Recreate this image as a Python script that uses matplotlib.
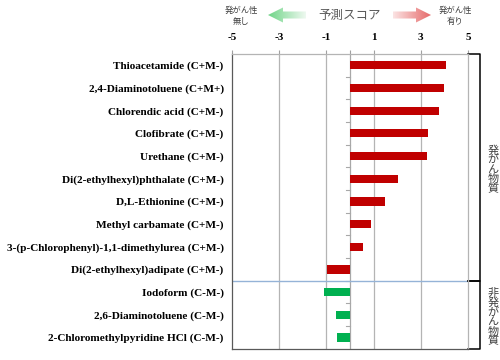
import numpy as np
import matplotlib
matplotlib.use('Agg')
import matplotlib.pyplot as plt
from matplotlib.patches import Polygon
from matplotlib.colors import LinearSegmentedColormap

# Datos
compuestos = [
    "Thioacetamide (C+M-)",
    "2,4-Diaminotoluene (C+M+)",
    "Chlorendic acid (C+M-)",
    "Clofibrate (C+M-)",
    "Urethane (C+M-)",
    "Di(2-ethylhexyl)phthalate (C+M-)",
    "D,L-Ethionine (C+M-)",
    "Methyl carbamate (C+M-)",
    "3-(p-Chlorophenyl)-1,1-dimethylurea (C+M-)",
    "Di(2-ethylhexyl)adipate (C+M-)",
    "Iodoform (C-M-)",
    "2,6-Diaminotoluene (C-M-)",
    "2-Chloromethylpyridine HCl (C-M-)",
]
puntajes = [4.05, 3.97, 3.76, 3.29, 3.27, 2.03, 1.48, 0.91, 0.54, -0.98, -1.12, -0.58, -0.55]
carcinogeno = [True] * 10 + [False] * 3
ticks = [-5, -3, -1, 1, 3, 5]

jp = ['Noto Sans CJK JP', 'DejaVu Sans']
serif = 'Liberation Serif'

fig = plt.figure(figsize=(5, 3.6), dpi=100)
ax = fig.add_axes([0.464, 0.031, 0.472, 0.819])

y = np.arange(len(compuestos))
colores = ['#c00000' if c else '#00b050' for c in carcinogeno]
ax.barh(y, puntajes, height=0.36, color=colores, zorder=3)

ax.set_xlim(-5, 5)
ax.set_ylim(len(compuestos) - 0.5, -0.5)
ax.set_xticks(ticks + [0])
ax.set_xticklabels([str(t) for t in ticks] + [''])
ax.xaxis.tick_top()
ax.tick_params(axis='x', length=3, pad=5.5, color='#a0a0a0', labelsize=8)
for lbl in ax.get_xticklabels():
    lbl.set_fontfamily(serif)
    lbl.set_fontweight('bold')
ax.set_yticks(y)
ax.set_yticklabels(compuestos, fontfamily=serif, fontweight='bold', fontsize=8.1)
ax.tick_params(axis='y', length=0, pad=6)

for t in ticks[1:-1]:
    ax.axvline(t, color='#b4b4b4', lw=0.9, zorder=1)
ax.axvline(0, color='#a8a8a8', lw=0.9, zorder=2)
# marcas pequeñas del eje en cero
for b in y[:-1] + 0.5:
    ax.plot([-0.15, 0], [b, b], color='#a8a8a8', lw=0.8, zorder=2)

ax.spines['left'].set_color('#595959')
ax.spines['bottom'].set_color('#595959')
ax.spines['top'].set_color('#b4b4b4')
ax.spines['right'].set_color('#b4b4b4')
for s in ax.spines.values():
    s.set_linewidth(0.9)

# separador entre grupos
sep = carcinogeno.count(True) - 0.5
ax.axhline(sep, color='#95b3d7', lw=1, zorder=2)

# corchetes a la derecha
bx0, bx1 = 1.0, 1.05
tr = ax.get_yaxis_transform()
grupos = [(-0.5, sep, '発\nが\nん\n物\n質'), (sep, len(compuestos) - 0.5, '非\n発\nが\nん\n物\n質')]
for (a, b, txt) in grupos:
    ax.plot([bx0, bx1, bx1, bx0], [a, a, b, b], color='black', lw=1.1,
            transform=tr, clip_on=False)
    ax.text(1.105, (a + b) / 2 + 0.1, txt, transform=tr, ha='center', va='center',
            fontsize=8, family=jp, color='#404040', linespacing=0.95)

# encabezado con flechas degradadas
bg = fig.add_axes([0, 0, 1, 1], zorder=-1)
bg.set_xlim(0, 500)
bg.set_ylim(360, 0)
bg.axis('off')


def flecha(x_punta, x_cola, yc, c1, c2):
    d = 1 if x_cola > x_punta else -1
    cabeza = x_punta + d * 15
    pts = [(x_punta, yc), (cabeza, yc - 7.5), (cabeza, yc - 3.5), (x_cola, yc - 3.5),
           (x_cola, yc + 3.5), (cabeza, yc + 3.5), (cabeza, yc + 7.5)]
    poly = Polygon(pts, closed=True, facecolor='none', edgecolor='none')
    bg.add_patch(poly)
    cmap = LinearSegmentedColormap.from_list('g', [c1, c2])
    grad = np.linspace(0, 1, 100).reshape(1, -1)
    if d < 0:
        grad = grad[:, ::-1]
    im = bg.imshow(grad, cmap=cmap, aspect='auto',
                   extent=[min(x_punta, x_cola), max(x_punta, x_cola), yc + 8, yc - 8])
    im.set_clip_path(poly)


flecha(268, 306, 15, '#6fd487', '#eef9f0')
flecha(431, 393, 15, '#e66a6a', '#fbe3e3')
bg.set_xlim(0, 500)
bg.set_ylim(360, 0)

bg.text(350, 15, '予測スコア', ha='center', va='center', fontsize=9, family=jp, color='#595959')
bg.text(241, 16, '発がん性\n無し', ha='center', va='center', fontsize=6, family=jp,
        color='#404040', linespacing=1.3)
bg.text(455, 16, '発がん性\n有り', ha='center', va='center', fontsize=6, family=jp,
        color='#404040', linespacing=1.3)

fig.savefig('out.png', dpi=100)
